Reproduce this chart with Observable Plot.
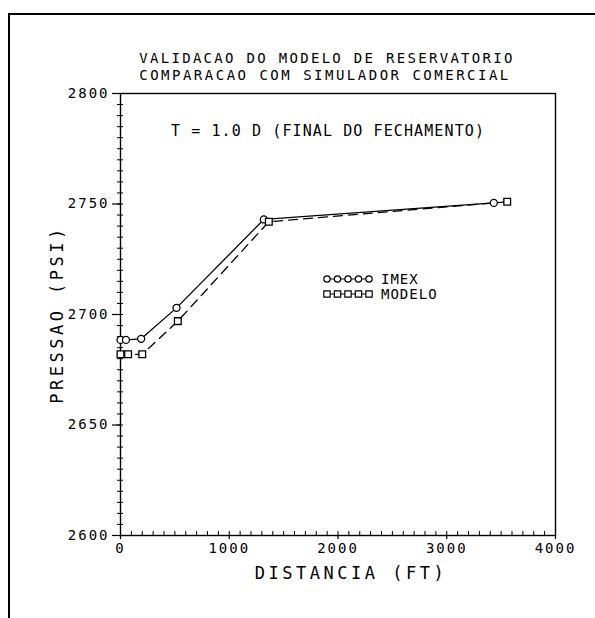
<!DOCTYPE html>
<html>
<head>
<meta charset="utf-8">
<script src="https://cdn.jsdelivr.net/npm/d3@7"></script>
<script src="https://cdn.jsdelivr.net/npm/@observablehq/plot@0.6"></script>
<style>
  html, body { margin: 0; padding: 0; background: #fff; }
  #page { position: relative; width: 595px; height: 618px; overflow: hidden; }
  #sheet { position: absolute; left: 8px; top: 13px; right: -4px; bottom: -4px;
           border-left: 2px solid #000; border-top: 2px solid #000; }
  #chart { position: absolute; left: 0; top: 0; }
</style>
</head>
<body>
<div id="page"><div id="sheet"></div><div id="chart"></div></div>
<script>
// Pressure vs. distance at the end of shut-in (t = 1.0 d)
const titleLines = ["VALIDACAO DO MODELO DE RESERVATORIO", "COMPARACAO COM SIMULADOR COMERCIAL"];
const note = "T = 1.0 D (FINAL DO FECHAMENTO)";
const xLabel = "DISTANCIA (FT)";
const yLabel = "PRESSAO (PSI)";

// IMEX (commercial simulator)
const imexDist = [0, 50, 190, 515, 1318, 3433];
const imexPres = [2688.5, 2688.5, 2689, 2703, 2743, 2750.5];

// Reservoir model
const modeloDist = [0, 70, 200, 527, 1364, 3556];
const modeloPres = [2682, 2682, 2682, 2697, 2742, 2751];

const seriesNames = ["IMEX", "MODELO"];
const xTicks = [0, 1000, 2000, 3000, 4000];
const yTicks = [2600, 2650, 2700, 2750, 2800];

const imex = imexDist.map((d, i) => ({x: d, y: imexPres[i]}));
const modelo = modeloDist.map((d, i) => ({x: d, y: modeloPres[i]}));

const font = "'DejaVu Sans Mono', monospace";

const chart = Plot.plot({
  width: 595,
  height: 618,
  marginLeft: 120,
  marginRight: 40,
  marginTop: 93,
  marginBottom: 83,
  style: {fontFamily: font, color: "#000", background: "transparent", overflow: "visible"},
  x: {domain: [0, 4000]},
  y: {domain: [2600, 2800]},
  marks: [
    Plot.frame({stroke: "#000", strokeWidth: 1.4}),
    // y axis: major labels, minor ticks every 5 psi on both sides
    Plot.axisY({ticks: yTicks, tickSize: 8, tickPadding: 3, tickFormat: d => String(d),
                fontSize: 14, label: null, stroke: "#000", strokeWidth: 1.2}),
    Plot.axisY({ticks: d3.range(2600, 2801, 5), tickSize: 3, text: null, label: null, stroke: "#000"}),
    Plot.axisY({ticks: d3.range(2600, 2801, 5), tickSize: -3, text: null, label: null, stroke: "#000"}),
    // x axis: major labels, minor ticks every 100 ft inside
    Plot.axisX({ticks: xTicks, tickSize: 4, tickPadding: 4, tickFormat: d => String(d),
                fontSize: 14, label: null, stroke: "#000", strokeWidth: 1.2}),
    Plot.axisX({ticks: d3.range(0, 4001, 100), tickSize: -4, text: null, label: null, stroke: "#000"}),
    // series
    Plot.line(imex, {x: "x", y: "y", stroke: "#000", strokeWidth: 1.3}),
    Plot.line(modelo, {x: "x", y: "y", stroke: "#000", strokeWidth: 1.3, strokeDasharray: "9,6"}),
    Plot.dot(imex, {x: "x", y: "y", symbol: "circle", r: 3.5, fill: "#fff", stroke: "#000", strokeWidth: 1.3}),
    Plot.dot(modelo, {x: "x", y: "y", symbol: "square", r: 3.8, fill: "#fff", stroke: "#000", strokeWidth: 1.3}),
    // titles and labels
    Plot.text([titleLines[0]], {text: d => d, frameAnchor: "top", dx: -11, dy: -40,
      fontSize: 14, fill: "#000"}),
    Plot.text([titleLines[1]], {text: d => d, frameAnchor: "top", dx: -13, dy: -23,
      fontSize: 14, fill: "#000"}),
    Plot.text([note], {text: d => d, frameAnchor: "top", dx: -10, dy: 32, fontSize: 15, fill: "#000"}),
    Plot.text([xLabel], {text: d => d, frameAnchor: "bottom", dx: 13, dy: 43, fontSize: 17, fill: "#000"}),
    Plot.text([yLabel], {text: d => d, frameAnchor: "left", textAnchor: "middle", dx: -63, dy: 0,
      rotate: -90, fontSize: 17, fill: "#000"})
  ]
});

// spacing of the plotter-style lettering
const svg = d3.select(chart);
svg.selectAll("text").each(function() {
  const t = this.textContent;
  const el = d3.select(this);
  if (t === titleLines[0]) el.style("letter-spacing", "2.3px");
  else if (t === titleLines[1]) el.style("letter-spacing", "2.5px");
  else if (t === note) el.style("letter-spacing", "1.1px");
  else if (t === xLabel || t === yLabel) el.style("letter-spacing", "3.5px");
  else el.style("letter-spacing", "2px");
});

// legend inside the plot area
const legend = svg.append("g").attr("transform", "translate(327,279)");
const symbols = [d3.symbolCircle, d3.symbolSquare];
const sizes = [Math.PI * 3.2 * 3.2, 40];
seriesNames.forEach((name, k) => {
  const row = legend.append("g").attr("transform", `translate(0,${k * 15})`);
  row.append("line").attr("x1", 0).attr("x2", 42).attr("stroke", "#000").attr("stroke-width", 1.2);
  d3.range(5).forEach(i => {
    row.append("path").attr("d", d3.symbol(symbols[k], sizes[k])())
      .attr("transform", `translate(${i * 10.5},0)`)
      .attr("fill", "#fff").attr("stroke", "#000").attr("stroke-width", 1.2);
  });
  row.append("text").attr("x", 54).attr("dy", "0.35em").attr("font-size", 14)
    .attr("text-anchor", "start").attr("font-family", font)
    .style("letter-spacing", "1px").text(name);
});

document.getElementById("chart").appendChild(chart);
</script>
</body>
</html>
